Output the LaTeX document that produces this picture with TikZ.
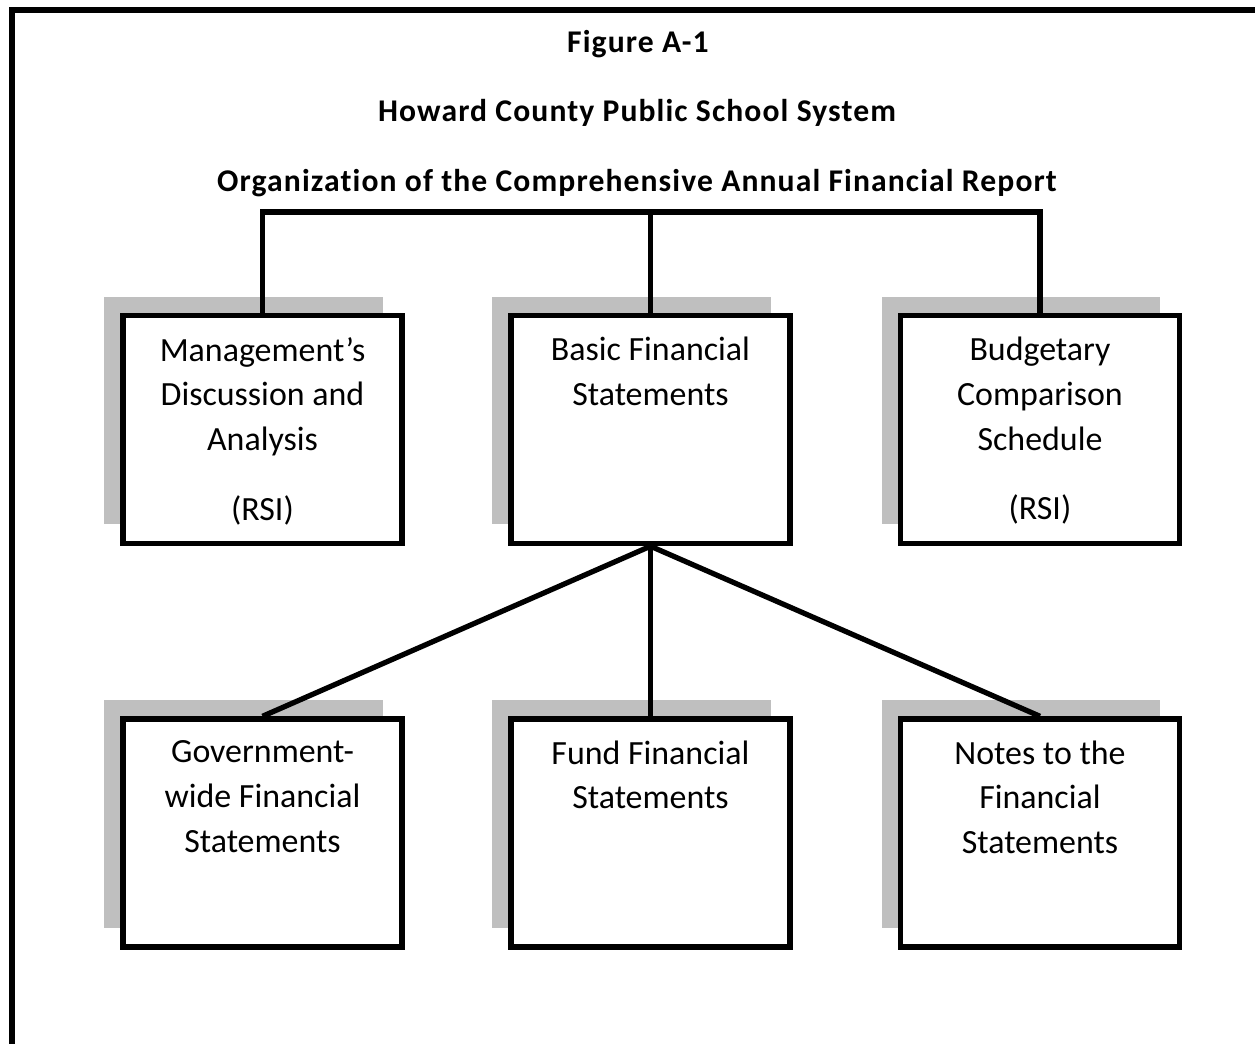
\documentclass[tikz,border=0pt]{standalone}
\usepackage{fontspec}
\setmainfont{Carlito}[Ligatures=NoCommon]
\usepackage{tikz}
\usetikzlibrary{positioning, shadows}
\tikzstyle{box} = [rectangle,
minimum width=5.58cm,
minimum height=4.56cm,
draw=black, line width=3.1pt, fill=white,
drop shadow={shadow xshift=-0.38cm, shadow yshift=0.38cm, fill=gray!50, opacity=1}]
\tikzstyle{boxtext} = [align=center, inner sep=0pt, font=\fontsize{19.3}{25.5}\selectfont]
\tikzstyle{titre} = [inner sep=0pt, font=\bfseries\fontsize{18}{22}\selectfont\addfontfeatures{LetterSpace=3.5}]
\tikzstyle{lien} = [line width=3pt]

\begin{document}
\begin{tikzpicture}[x=0.02cm, y=-0.02cm]
\useasboundingbox (0,0) rectangle (1255,1044);

% Cadre (coupé à droite et en bas)
\draw[line width=3.3pt] (12,1044) -- (12,10) -- (1255,10);

% Titres
\node[titre] (fig) at (638,44) {Figure A-1};
\node[titre] (hcpss) at (637,113) {Howard County Public School System};
\node[titre] (org) at (637,183) {Organization of the Comprehensive Annual Financial Report};

% Boîtes du haut
\node[box] (mda) at (262.5,429.5) {};
\node[box] (bfs) at (650.5,429.5) {};
\node[box] (bcs) at (1040,429.5) {};

% Boîtes du bas
\node[box] (gwfs) at (262.5,833) {};
\node[box] (ffs) at (650.5,833) {};
\node[box] (nfs) at (1040,833) {};

% Textes des boîtes
\node[boxtext, below=0.48cm of mda.north] (mda-txt) {Management’s\\Discussion and\\Analysis\\[14pt](RSI)};
\node[boxtext, below=0.48cm of bfs.north] (bfs-txt) {Basic Financial\\Statements};
\node[boxtext, below=0.48cm of bcs.north] (bcs-txt) {Budgetary\\Comparison\\Schedule\\[14pt](RSI)};
\node[boxtext, below=0.48cm of gwfs.north] (gwfs-txt) {Government-\\wide Financial\\Statements};
\node[boxtext, below=0.48cm of ffs.north] (ffs-txt) {Fund Financial\\Statements};
\node[boxtext, below=0.48cm of nfs.north] (nfs-txt) {Notes to the\\Financial\\Statements};

% Liens du haut
\coordinate (bus) at (650.5,212);
\draw[lien] (mda.north) |- (bus) -| (bcs.north);
\draw[lien] (bfs.north) -- (bus);

% Liens du bas
\draw[lien] (bfs.south) -- (gwfs.north);
\draw[lien] (bfs.south) -- (ffs.north);
\draw[lien] (bfs.south) -- (nfs.north);

\end{tikzpicture}
\end{document}
